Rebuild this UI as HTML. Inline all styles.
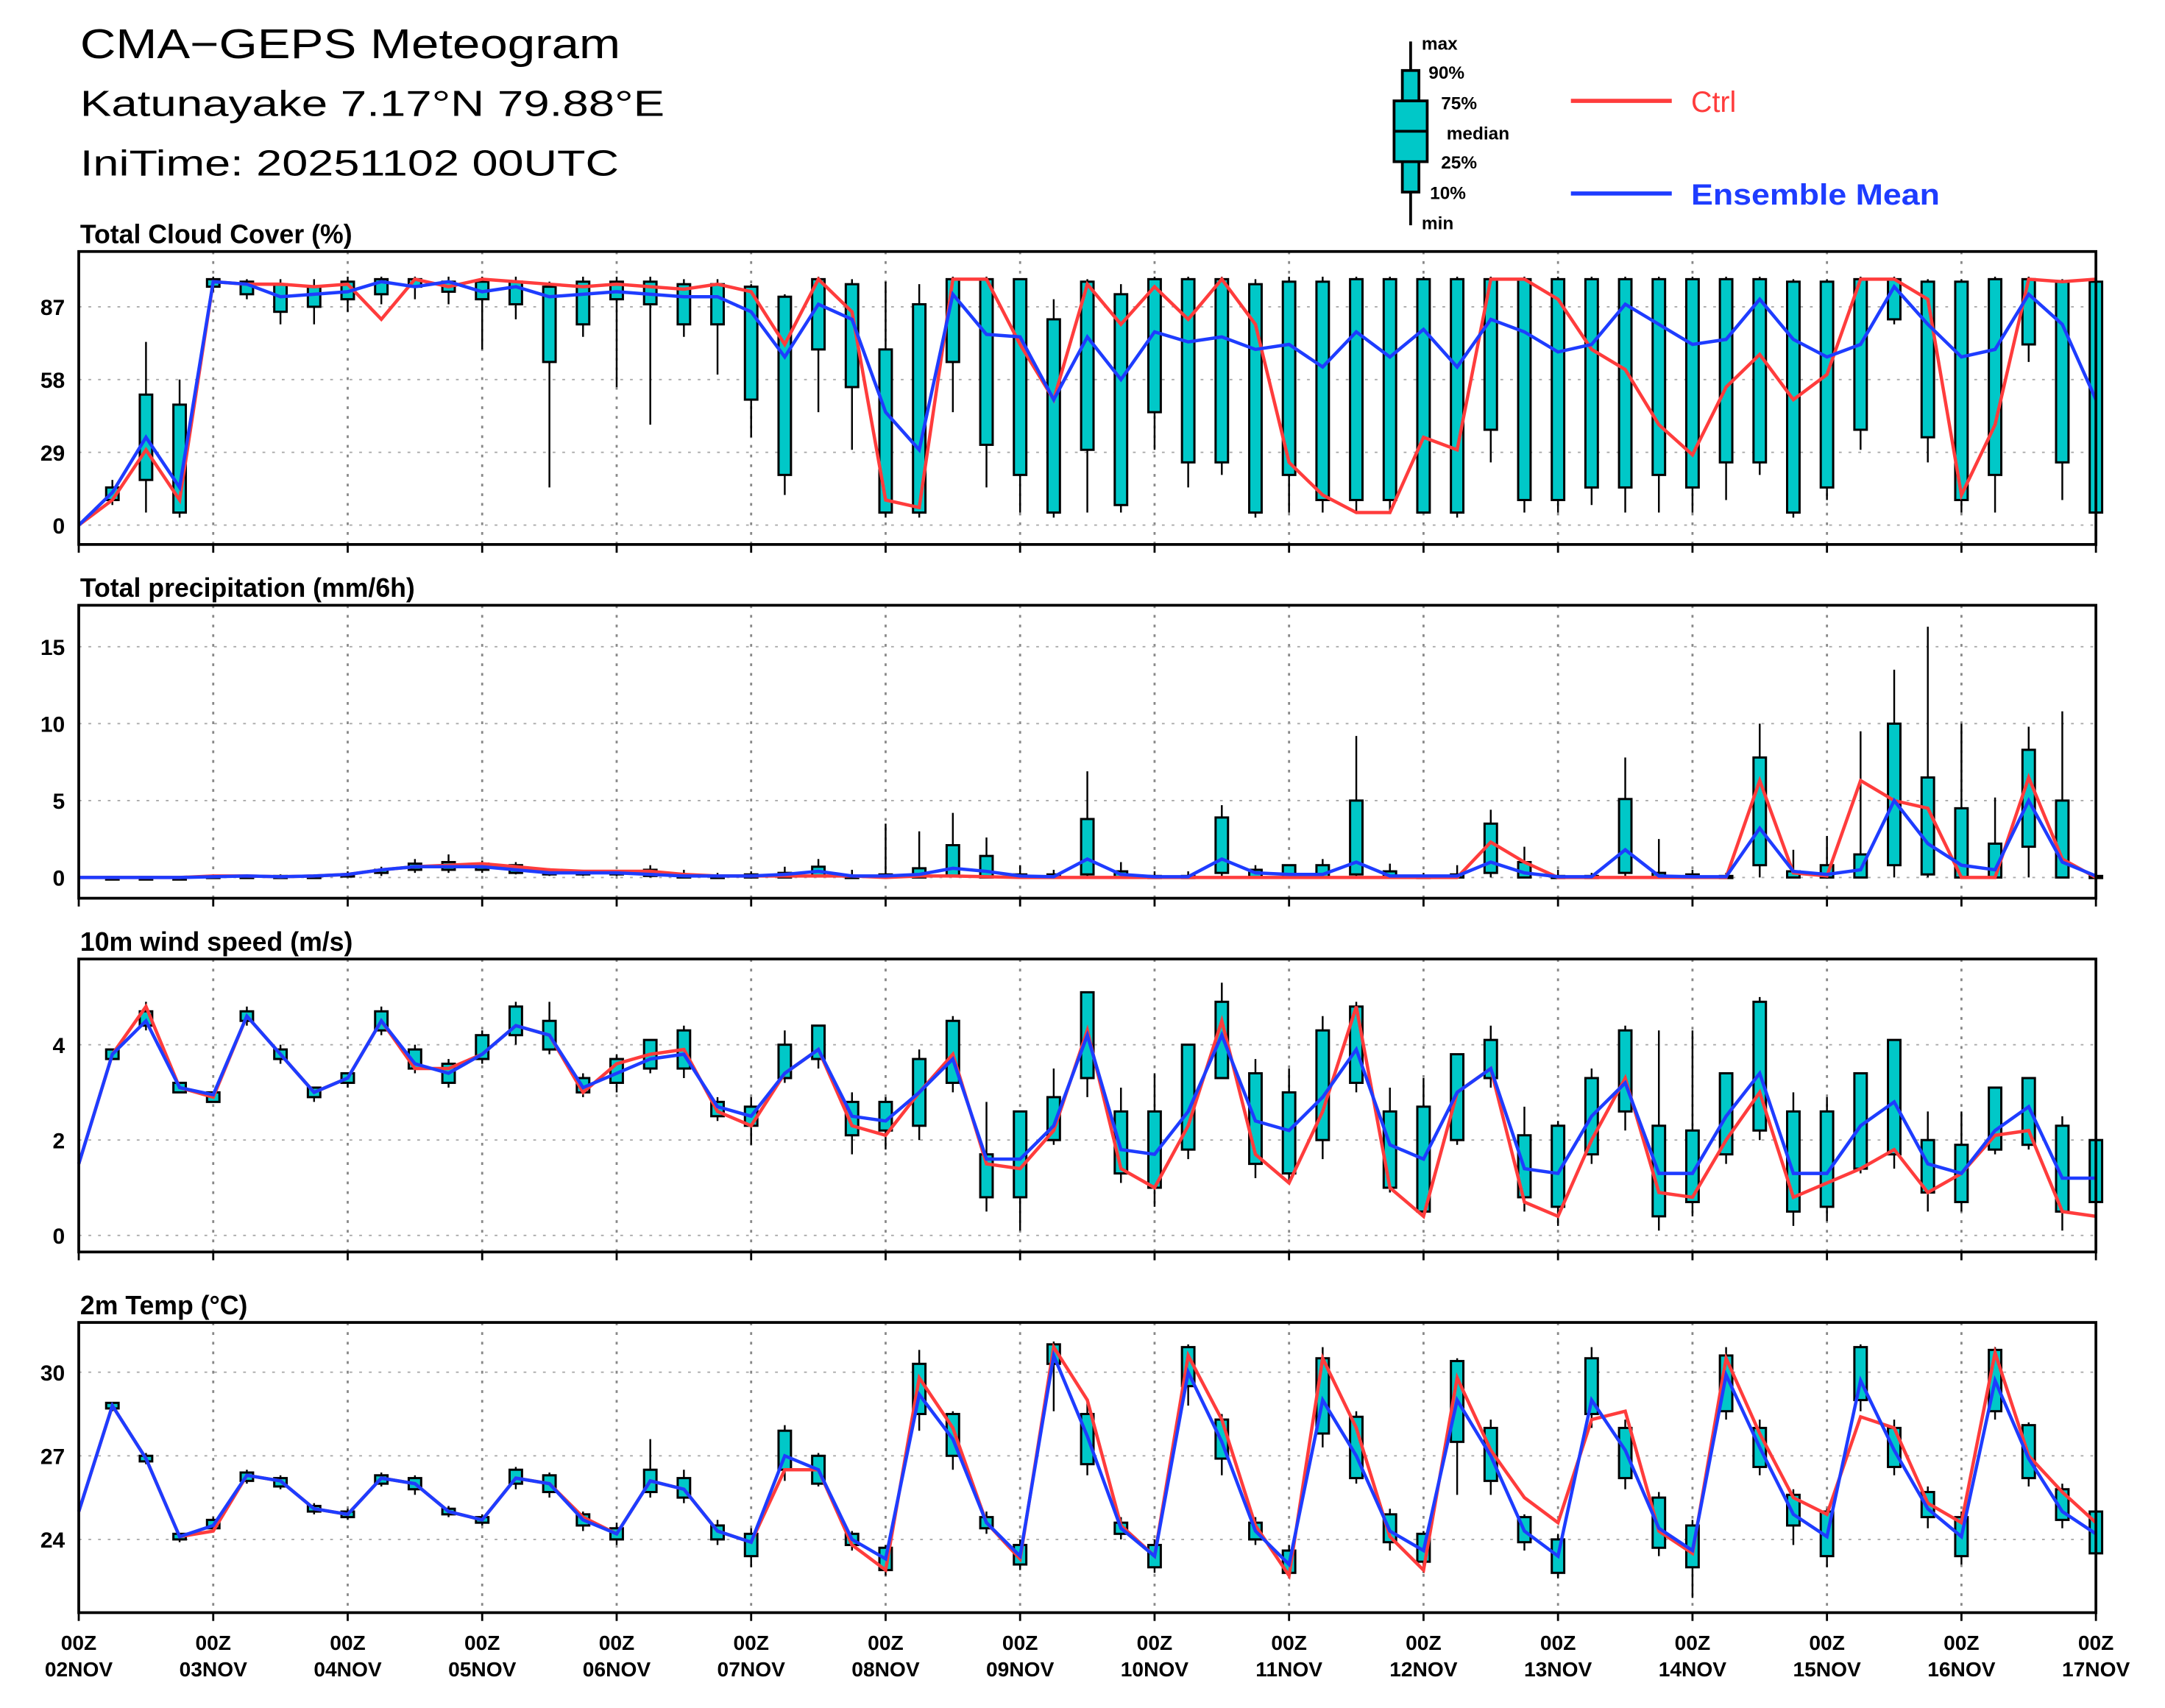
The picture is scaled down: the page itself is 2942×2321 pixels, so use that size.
<!DOCTYPE html>
<html><head><meta charset="utf-8"><title>CMA-GEPS Meteogram</title>
<style>html,body{margin:0;padding:0;background:#fff}svg{display:block}text{font-family:"Liberation Sans",sans-serif;font-weight:bold}</style></head>
<body>
<svg id="chart" width="2942" height="2321" viewBox="0 0 1567 1236" preserveAspectRatio="none" xmlns="http://www.w3.org/2000/svg">
<rect x="0" y="0" width="1567" height="1236" fill="#fff"/>
<g>
<text x="58" y="42" font-size="30" textLength="391" lengthAdjust="spacingAndGlyphs" style="font-weight:normal">CMA−GEPS Meteogram</text>
<text x="58" y="84" font-size="26" textLength="423" lengthAdjust="spacingAndGlyphs" style="font-weight:normal">Katunayake 7.17°N 79.88°E</text>
<text x="58" y="127" font-size="26" textLength="390" lengthAdjust="spacingAndGlyphs" style="font-weight:normal">IniTime: 20251102 00UTC</text>
</g>
<g>
<line x1="1021" y1="30" x2="1021" y2="163" stroke="#000" stroke-width="2"/>
<rect x="1015" y="51" width="12" height="88" fill="#00c8c8" stroke="#000" stroke-width="2"/>
<rect x="1009" y="73" width="24" height="44" fill="#00c8c8" stroke="#000" stroke-width="2"/>
<line x1="1009" y1="95" x2="1033" y2="95" stroke="#000" stroke-width="2"/>
<g font-size="13"><text x="1029" y="36">max</text><text x="1034" y="57">90%</text><text x="1043" y="79">75%</text><text x="1047" y="101">median</text><text x="1043" y="122">25%</text><text x="1035" y="144">10%</text><text x="1029" y="166">min</text></g>
<line x1="1137" y1="73" x2="1210" y2="73" stroke="#ff3c3c" stroke-width="3"/>
<text x="1224" y="81" font-size="21" fill="#ff3c3c" style="font-weight:normal">Ctrl</text>
<line x1="1137" y1="140" x2="1210" y2="140" stroke="#1e3cff" stroke-width="3"/>
<text x="1224" y="148" font-size="21" fill="#1e3cff" textLength="180" lengthAdjust="spacingAndGlyphs">Ensemble Mean</text>
</g>
<g id="panels"></g>
</svg>
<script>
// ---- Cloud cover (%) ----
const cloudMean=[0,13,35,15,97,96,91,92,93,97,95,97,93,95,91,92,93,92,91,91,85,67,88,82,45,30,92,76,75,50,75,58,77,73,75,70,72,63,77,67,78,63,82,77,69,72,88,80,72,74,90,74,67,72,95,80,67,70,92,80,50];
const cloudCtrl=[0,10,30,10,97,96,96,95,96,82,98,95,98,97,96,95,96,95,94,96,93,72,98,85,10,7,98,98,72,50,96,80,95,82,98,80,25,12,5,5,35,30,98,98,90,70,62,40,28,55,68,50,60,98,98,90,12,40,98,97,98];
const cloudQ3=[0,15,52,48,98,97,96,95,97,98,98,97,97,97,95,97,97,97,96,96,95,91,98,96,70,88,98,98,98,82,97,92,98,98,98,96,97,97,98,98,98,98,98,98,98,98,98,98,98,98,98,97,97,98,98,97,97,98,98,97,97];
const cloudQ1=[0,10,18,5,95,92,85,87,90,92,95,93,90,88,65,80,90,88,80,80,50,20,70,55,5,5,65,32,20,5,30,8,45,25,25,5,20,10,10,10,5,5,38,10,10,15,15,20,15,25,25,5,15,38,82,35,10,20,72,25,5];
const cloudMin=[0,8,5,3,93,90,80,80,85,88,90,88,70,82,15,75,55,40,75,60,35,12,45,30,3,3,45,15,5,3,5,5,30,15,20,3,5,5,5,5,5,3,25,5,5,8,5,5,5,10,20,3,10,30,80,25,5,5,65,10,3];
const cloudMax=[0,18,73,58,99,98,98,98,99,99,99,99,99,99,97,99,99,99,98,98,96,92,99,98,97,96,99,99,98,90,98,96,99,99,99,98,99,99,99,99,99,99,99,99,99,99,99,99,99,99,99,98,98,99,99,98,98,99,99,98,98];
// ---- Precipitation (mm/6h) ----
const precMean=[0,0,0,0,0.05,0.1,0.05,0.1,0.2,0.5,0.7,0.7,0.7,0.5,0.3,0.3,0.3,0.2,0.1,0.1,0.1,0.2,0.4,0.1,0.1,0.2,0.6,0.4,0.1,0.05,1.2,0.2,0.05,0.05,1.2,0.3,0.2,0.2,1.0,0.1,0.1,0.1,1.0,0.3,0.05,0.05,1.8,0.1,0.05,0.05,3.2,0.4,0.2,0.5,5.0,2.2,0.8,0.5,5.0,1.0,0.1];
const precCtrl=[0,0,0,0,0.1,0.1,0.05,0.1,0.2,0.5,0.7,0.8,0.9,0.7,0.5,0.4,0.4,0.4,0.2,0.1,0.1,0.1,0.1,0.1,0,0.1,0.1,0.05,0,0,0,0,0,0,0,0,0,0,0,0,0,0,2.3,1.0,0,0,0,0,0,0,6.3,0.3,0.1,6.3,5.0,4.5,0,0,6.5,1.2,0];
const precQ3=[0,0,0,0,0.1,0.1,0.1,0.1,0.2,0.5,0.9,1.0,0.9,0.8,0.4,0.4,0.4,0.5,0.2,0.1,0.2,0.3,0.7,0.1,0.2,0.6,2.1,1.4,0.2,0.2,3.8,0.4,0.1,0.1,3.9,0.5,0.8,0.8,5.0,0.4,0.1,0.2,3.5,1.0,0.1,0.1,5.1,0.3,0.2,0.1,7.8,0.4,0.8,1.5,10,6.5,4.5,2.2,8.3,5.0,0.1];
const precQ1=[0,0,0,0,0,0,0,0,0.1,0.3,0.5,0.5,0.5,0.3,0.2,0.2,0.2,0.1,0,0,0,0,0.1,0,0,0,0.1,0,0,0,0.2,0,0,0,0.3,0,0,0,0.2,0,0,0,0.3,0,0,0,0.3,0,0,0,0.8,0,0,0,0.8,0.2,0,0,2.0,0,0];
const precMax=[0,0,0,0,0.2,0.2,0.2,0.2,0.4,0.7,1.2,1.5,1.1,1.0,0.6,0.5,0.5,0.8,0.5,0.3,0.4,0.7,1.2,0.5,3.5,3.0,4.2,2.6,0.8,0.5,6.9,1.0,0.4,0.4,4.7,0.8,0.8,1.2,9.2,0.9,0.3,0.8,4.4,2.0,0.5,0.3,7.8,2.5,0.5,0.3,10,1.8,2.7,9.5,13.5,16.3,10,5.2,9.8,10.8,0.3];
const precMin=[0,0,0,0,0,0,0,0,0,0.1,0.3,0.3,0.3,0.2,0.1,0.1,0.1,0,0,0,0,0,0,0,0,0,0,0,0,0,0,0,0,0,0,0,0,0,0,0,0,0,0,0,0,0,0,0,0,0,0,0,0,0,0,0,0,0,0,0,0];
// ---- 10m wind (m/s) ----
const windMean=[1.5,3.8,4.5,3.1,2.95,4.6,3.8,3.0,3.3,4.5,3.6,3.4,3.8,4.4,4.2,3.1,3.4,3.7,3.8,2.7,2.5,3.4,3.9,2.5,2.4,3.0,3.7,1.6,1.6,2.3,4.2,1.8,1.7,2.6,4.2,2.4,2.2,2.9,3.9,1.9,1.6,3.0,3.5,1.4,1.3,2.5,3.2,1.3,1.3,2.5,3.4,1.3,1.3,2.3,2.8,1.5,1.3,2.2,2.7,1.2,1.2];
const windCtrl=[1.5,3.8,4.8,3.1,2.9,4.6,3.8,3.0,3.3,4.5,3.5,3.5,3.8,4.4,4.2,3.0,3.6,3.8,3.9,2.6,2.3,3.4,3.9,2.3,2.1,3.0,3.8,1.5,1.4,2.2,4.3,1.4,1.0,2.3,4.5,1.7,1.1,2.6,4.8,1.0,0.4,3.0,3.5,0.7,0.4,2.0,3.3,0.9,0.8,2.0,3.0,0.8,1.1,1.4,1.8,0.9,1.3,2.1,2.2,0.5,0.4];
const windQ3=[1.5,3.9,4.7,3.2,3.0,4.7,3.9,3.1,3.4,4.7,3.9,3.6,4.2,4.8,4.5,3.3,3.7,4.1,4.3,2.8,2.7,4.0,4.4,2.8,2.8,3.7,4.5,1.7,2.6,2.9,5.1,2.6,2.6,4.0,4.9,3.4,3.0,4.3,4.8,2.6,2.7,3.8,4.1,2.1,2.3,3.3,4.3,2.3,2.2,3.4,4.9,2.6,2.6,3.4,4.1,2.0,1.9,3.1,3.3,2.3,2.0];
const windQ1=[1.5,3.7,4.4,3.0,2.8,4.5,3.7,2.9,3.2,4.3,3.5,3.2,3.7,4.2,3.9,3.0,3.2,3.5,3.5,2.5,2.3,3.3,3.7,2.1,2.2,2.3,3.2,0.8,0.8,2.0,3.3,1.3,1.0,1.8,3.3,1.5,1.3,2.0,3.2,1.0,0.5,2.0,3.3,0.8,0.6,1.7,2.6,0.4,0.7,1.7,2.2,0.5,0.6,1.4,1.7,0.9,0.7,1.8,1.9,0.5,0.7];
const windMin=[1.5,3.7,4.3,3.0,2.8,4.4,3.6,2.8,3.1,4.2,3.4,3.1,3.6,4.0,3.8,2.9,3.0,3.4,3.3,2.4,1.9,3.2,3.5,1.7,1.8,2.0,3.0,0.5,0.1,1.9,2.9,1.1,0.6,1.6,3.3,1.2,1.1,1.6,3.0,0.9,0.4,1.9,3.1,0.5,0.2,1.5,2.2,0.1,0.4,1.5,2.0,0.2,0.3,1.3,1.4,0.5,0.5,1.7,1.8,0.1,0.5];
const windMax=[1.5,3.9,4.9,3.2,3.0,4.8,4.0,3.1,3.4,4.8,4.0,3.7,4.3,4.9,4.9,3.4,3.8,4.1,4.4,2.9,2.9,4.3,4.4,3.0,2.9,3.9,4.6,2.8,2.5,3.5,5.1,3.1,3.4,4.0,5.3,3.7,3.5,4.6,4.9,3.1,3.3,3.8,4.4,2.7,2.4,3.5,4.4,4.3,4.3,3.4,5.0,3.0,2.9,3.4,4.1,2.6,2.6,3.0,3.2,2.5,2.0];
// ---- 2m temp (°C) ----
const tempMean=[25.0,28.8,26.9,24.1,24.5,26.3,26.1,25.1,24.9,26.2,26.0,25.0,24.7,26.2,26.0,24.7,24.2,26.1,25.8,24.3,23.9,27.0,26.5,24.0,23.3,29.2,27.6,24.6,23.4,30.6,27.7,24.4,23.4,30.0,27.5,24.3,23.1,29.0,27.0,24.3,23.6,29.0,27.0,24.3,23.4,29.0,27.2,24.4,23.6,29.9,27.3,24.9,24.1,29.7,27.2,25.1,24.1,29.7,26.9,25.0,24.2];
const tempCtrl=[25.0,28.8,26.9,24.1,24.3,26.3,26.1,25.1,24.9,26.2,26.0,25.0,24.7,26.2,26.0,24.8,24.2,26.1,25.8,24.3,23.9,26.5,26.5,23.8,22.9,29.8,28.0,24.6,23.3,30.9,29.0,24.5,23.4,30.6,28.3,24.5,22.7,30.5,28.0,24.1,22.9,29.8,27.2,25.5,24.6,28.3,28.6,24.3,23.5,30.5,27.8,25.5,24.9,28.4,28.0,25.3,24.6,30.7,27.0,25.7,24.6];
const tempQ3=[25,28.9,27.0,24.2,24.7,26.4,26.2,25.2,25.0,26.3,26.2,25.1,24.8,26.5,26.3,24.9,24.4,26.5,26.2,24.5,24.2,27.9,27.0,24.2,23.7,30.3,28.5,24.8,23.8,31.0,28.5,24.6,23.8,30.9,28.3,24.6,23.6,30.5,28.4,24.9,24.2,30.4,28.0,24.8,24.0,30.5,28.0,25.5,24.5,30.6,28.0,25.6,25.0,30.9,28.0,25.7,24.8,30.8,28.1,25.8,25.0];
const tempQ1=[25,28.7,26.8,24.0,24.4,26.1,25.9,25.0,24.8,26.0,25.8,24.9,24.6,26.0,25.7,24.5,24.0,25.7,25.5,24.0,23.4,26.5,26.0,23.8,22.9,28.5,27.0,24.4,23.1,30.3,26.7,24.2,23.0,29.5,26.9,24.0,22.8,27.8,26.2,23.9,23.2,27.5,26.1,23.9,22.8,28.5,26.2,23.7,23.0,28.6,26.6,24.5,23.4,29.0,26.6,24.8,23.4,28.6,26.2,24.7,23.5];
const tempMin=[25,28.6,26.7,23.9,24.3,26.0,25.8,24.9,24.7,25.9,25.6,24.8,24.5,25.8,25.5,24.3,23.8,25.5,25.3,23.8,23.0,26.1,25.9,23.6,22.7,27.9,26.5,24.2,22.9,28.6,26.3,24.0,22.8,28.8,26.3,23.8,22.6,27.3,26.0,23.6,22.8,25.6,25.6,23.6,22.6,28.0,25.8,23.4,21.9,28.3,26.3,23.8,23.0,28.6,26.3,24.4,23.1,28.3,25.9,24.4,23.2];
const tempMax=[25,28.9,27.1,24.2,24.8,26.5,26.3,25.3,25.1,26.4,26.3,25.2,24.9,26.6,26.4,25.0,24.6,27.6,26.5,24.7,24.4,28.1,27.1,24.3,23.8,30.8,28.6,25.0,24.0,31.1,29.0,24.8,24.0,31.0,28.5,24.8,23.8,30.9,28.6,25.1,24.3,30.5,28.3,24.9,24.2,30.9,28.3,25.7,24.7,30.9,28.3,25.8,25.1,31.0,28.3,25.9,25.0,30.9,28.2,26.0,25.1];
// ---- axes labels ----
const dayLabels=["02NOV","03NOV","04NOV","05NOV","06NOV","07NOV","08NOV","09NOV","10NOV","11NOV","12NOV","13NOV","14NOV","15NOV","16NOV","17NOV"];
const cloudTicks=[0,29,58,87];
const precTicks=[0,5,10,15];
const windTicks=[0,2,4];
const tempTicks=[24,27,30];

const NS="http://www.w3.org/2000/svg";
const X0=57,X1=1517,NSTEP=60;
function xAt(i){return X0+(X1-X0)*i/NSTEP;}
function mk(tag,attrs,parent){const e=document.createElementNS(NS,tag);for(const k in attrs)e.setAttribute(k,attrs[k]);parent.appendChild(e);return e;}
const root=document.getElementById('panels');

function panel(key,title,top,bot,v0,y0,v1,y1,ticks,series){
  const yAt=v=>y0+(v-v0)*(y1-y0)/(v1-v0);
  const clampY=v=>Math.max(top,Math.min(bot,yAt(v)));
  const g=mk('g',{},root);
  
  
  const t=mk('text',{x:58,y:top-6,'font-size':19},g);t.textContent=title;
  
  
  for(let d=1;d<15;d++){const l=mk('line',{x1:xAt(d*4),x2:xAt(d*4),y1:top,y2:bot,stroke:'#888','stroke-width':1.5,'stroke-dasharray':'2,5'},g);
    
    }
  ticks.forEach(v=>{const y=yAt(v);
    const l=mk('line',{x1:X0,x2:X1,y1:y,y2:y,stroke:'#aaa','stroke-width':1,'stroke-dasharray':'2,5'},g);
    
    
    const tk=mk('text',{x:X0-10,y:y+6,'font-size':16,'text-anchor':'end'},g);tk.textContent=v;
    
    });
  for(let i=1;i<=NSTEP;i++){const x=xAt(i);
    const w=mk('line',{x1:x,x2:x,y1:clampY(series.max[i]),y2:clampY(series.min[i]),stroke:'#000','stroke-width':1.3},g);
    
    
    const yq3=clampY(series.q3[i]),yq1=clampY(series.q1[i]);
    const b=mk('rect',{x:x-4.5,y:yq3,width:9,height:Math.max(1.5,yq1-yq3),fill:'#00c8c8',stroke:'#000','stroke-width':1.6},g);
    
    }
  const pts=a=>a.map((v,i)=>xAt(i)+','+clampY(v)).join(' ');
  const c=mk('polyline',{points:pts(series.ctrl),fill:'none',stroke:'#ff3c3c','stroke-width':2.4},g);
  
  
  const m=mk('polyline',{points:pts(series.mean),fill:'none',stroke:'#1e3cff','stroke-width':2.4},g);
  
  
  const f=mk('rect',{x:X0,y:top,width:X1-X0,height:bot-top,fill:'none',stroke:'#000','stroke-width':2},g);
  
  
  for(let d=0;d<=15;d++){const x=xAt(d*4);
    const tk=mk('line',{x1:x,x2:x,y1:bot,y2:bot+6,stroke:'#000','stroke-width':1.5},g);
    
    }
}
panel('cloud','Total Cloud Cover (%)',182,394,0,380,87,222,cloudTicks,{mean:cloudMean,ctrl:cloudCtrl,q1:cloudQ1,q3:cloudQ3,min:cloudMin,max:cloudMax});
panel('precip','Total precipitation (mm/6h)',438,650,0,635,15,468,precTicks,{mean:precMean,ctrl:precCtrl,q1:precQ1,q3:precQ3,min:precMin,max:precMax});
panel('wind','10m wind speed (m/s)',694,906,0,894,4,756,windTicks,{mean:windMean,ctrl:windCtrl,q1:windQ1,q3:windQ3,min:windMin,max:windMax});
panel('temp','2m Temp (°C)',957,1167,24,1114,30,993,tempTicks,{mean:tempMean,ctrl:tempCtrl,q1:tempQ1,q3:tempQ3,min:tempMin,max:tempMax});
dayLabels.forEach((lab,d)=>{const x=xAt(d*4);
  const a=mk('text',{x:x,y:1194,'font-size':15,'text-anchor':'middle'},root);a.textContent='00Z';
  
  
  const b=mk('text',{x:x,y:1213,'font-size':15,'text-anchor':'middle'},root);b.textContent=lab;
  
  });
</script>
</body></html>
